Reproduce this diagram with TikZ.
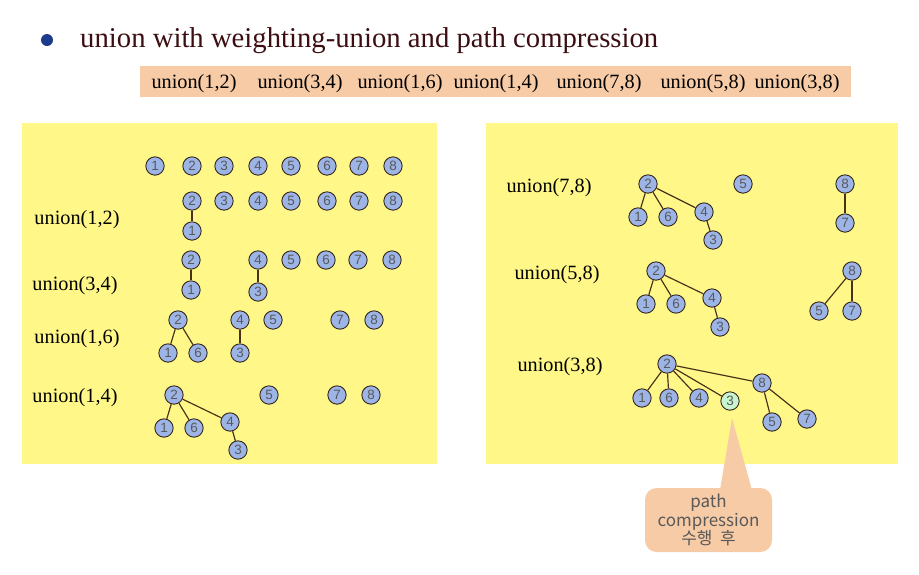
\documentclass[tikz,border=0pt]{standalone}
\usepackage{fontspec}
\setmainfont{Liberation Serif}
\setsansfont{Liberation Sans}
\newfontfamily\krfont{Noto Sans CJK KR}
\definecolor{panel}{HTML}{FFF888}
\definecolor{band}{HTML}{F6CBA6}
\definecolor{nodefill}{HTML}{9CB4E6}
\definecolor{nodegreen}{HTML}{C8F5D0}
\definecolor{nodeline}{HTML}{3A2A20}
\definecolor{edgeline}{HTML}{4A3018}
\definecolor{titletext}{HTML}{3C0E12}
\definecolor{bulletblue}{HTML}{1E3A8A}
\tikzset{
  nd/.style={circle, draw=nodeline, fill=nodefill, line width=0.8pt, minimum size=0.55cm, inner sep=0pt,
    font=\sffamily\fontsize{11.5}{11.5}\selectfont, text=black!65},
  ed/.style={draw=edgeline, line width=1pt},
  lbl/.style={font=\fontsize{17.3}{18}\selectfont, text=black, yshift=-2.5pt}
}
\begin{document}
\begin{tikzpicture}[x=0.03cm, y=-0.03cm]
\useasboundingbox (0,0) rectangle (919,574);
% Title and sequence band
\fill[bulletblue] (47,40) circle[radius=0.18cm];
\node[anchor=west, font=\fontsize{24.5}{26}\selectfont, text=titletext, inner sep=0pt, yshift=-2.5pt] (title) at (80,38) {union with weighting-union and path compression};
\fill[band] (140,66) rectangle (851,97);
\foreach \t/\x in {{(1,2)}/194,{(3,4)}/300,{(1,6)}/400,{(1,4)}/496,{(7,8)}/599,{(5,8)}/703,{(3,8)}/797}
  \node[lbl] (seq\x) at (\x,81) {union\t};
% Panels
\fill[panel] (22,123) rectangle (437,464);
\fill[panel] (486,123) rectangle (898,464);
% --- Left panel ---
% initial
\foreach \n/\x in {1/155,2/192,3/224,4/258,5/291,6/327,7/359,8/393}
  \node[nd] (a\n) at (\x,166) {\n};
% union(1,2)
\node[lbl] (lb) at (77,217) {union(1,2)};
\node[nd] (b2) at (192,201) {2};
\node[nd] (b1) at (192,231) {1};
\draw[ed] (b2) -- (b1);
\foreach \n/\x in {3/224,4/258,5/291,6/327,7/359,8/393}
  \node[nd] (b\n) at (\x,201) {\n};
% union(3,4)
\node[lbl] (lc) at (75,283) {union(3,4)};
\node[nd] (c2) at (191,260) {2};
\node[nd] (c1) at (191,290) {1};
\node[nd] (c4) at (258,260) {4};
\node[nd] (c3) at (258,292) {3};
\draw[ed] (c2) -- (c1);
\draw[ed] (c4) -- (c3);
\foreach \n/\x in {5/291,6/326,7/358,8/392}
  \node[nd] (c\n) at (\x,260) {\n};
% union(1,6)
\node[lbl] (ld) at (77,336) {union(1,6)};
\node[nd] (d2) at (178,320) {2};
\node[nd] (d1) at (168,353) {1};
\node[nd] (d6) at (198,353) {6};
\node[nd] (d4) at (240,320) {4};
\node[nd] (d3) at (240,353) {3};
\draw[ed] (d2) -- (d1);
\draw[ed] (d2) -- (d6);
\draw[ed] (d4) -- (d3);
\foreach \n/\x in {5/273,7/340,8/374}
  \node[nd] (d\n) at (\x,320) {\n};
% union(1,4)
\node[lbl] (le) at (75,395) {union(1,4)};
\node[nd] (e2) at (174,395) {2};
\node[nd] (e1) at (164,428) {1};
\node[nd] (e6) at (194,428) {6};
\node[nd] (e4) at (230,422) {4};
\node[nd] (e3) at (238,450) {3};
\draw[ed] (e2) -- (e1);
\draw[ed] (e2) -- (e6);
\draw[ed] (e2) -- (e4);
\draw[ed] (e4) -- (e3);
\foreach \n/\x in {5/269,7/337,8/371}
  \node[nd] (e\n) at (\x,395) {\n};
% --- Right panel ---
% union(7,8)
\node[lbl] (lf) at (549,185) {union(7,8)};
\node[nd] (f2) at (648,184) {2};
\node[nd] (f1) at (638,217) {1};
\node[nd] (f6) at (668,217) {6};
\node[nd] (f4) at (704,212) {4};
\node[nd] (f3) at (713,240) {3};
\node[nd] (f5) at (743,184) {5};
\node[nd] (f8) at (845,184) {8};
\node[nd] (f7) at (845,223) {7};
\draw[ed] (f2) -- (f1);
\draw[ed] (f2) -- (f6);
\draw[ed] (f2) -- (f4);
\draw[ed] (f4) -- (f3);
\draw[ed] (f8) -- (f7);
% union(5,8)
\node[lbl] (lg) at (557,272) {union(5,8)};
\node[nd] (g2) at (656,271) {2};
\node[nd] (g1) at (646,304) {1};
\node[nd] (g6) at (676,304) {6};
\node[nd] (g4) at (712,298) {4};
\node[nd] (g3) at (720,327) {3};
\node[nd] (g8) at (852,271) {8};
\node[nd] (g5) at (819,311) {5};
\node[nd] (g7) at (852,311) {7};
\draw[ed] (g2) -- (g1);
\draw[ed] (g2) -- (g6);
\draw[ed] (g2) -- (g4);
\draw[ed] (g4) -- (g3);
\draw[ed] (g8) -- (g5);
\draw[ed] (g8) -- (g7);
% union(3,8)
\node[lbl] (lh) at (560,364) {union(3,8)};
\node[nd] (h2) at (667,364) {2};
\node[nd] (h1) at (642,398) {1};
\node[nd] (h6) at (669,398) {6};
\node[nd] (h4) at (699,398) {4};
\node[nd, fill=nodegreen] (h3) at (730,401) {3};
\node[nd] (h8) at (762,383) {8};
\node[nd] (h5) at (772,422) {5};
\node[nd] (h7) at (807,419) {7};
\foreach \n in {1,6,4,3,8}
  \draw[ed] (h2) -- (h\n);
\draw[ed] (h8) -- (h5);
\draw[ed] (h8) -- (h7);
% callout
\coordinate (tip) at (732,418);
\fill[band] (720,490) -- (tip) -- (752,490) -- cycle;
\node[fill=band, rounded corners=10pt, minimum width=3.81cm, minimum height=1.92cm, align=center,
  font=\krfont\fontsize{14.5}{15.7}\selectfont, text=black!65, inner sep=2pt] (note) at (708.5,520)
  {path\\compression\\수행~~후};
\end{tikzpicture}
\end{document}
